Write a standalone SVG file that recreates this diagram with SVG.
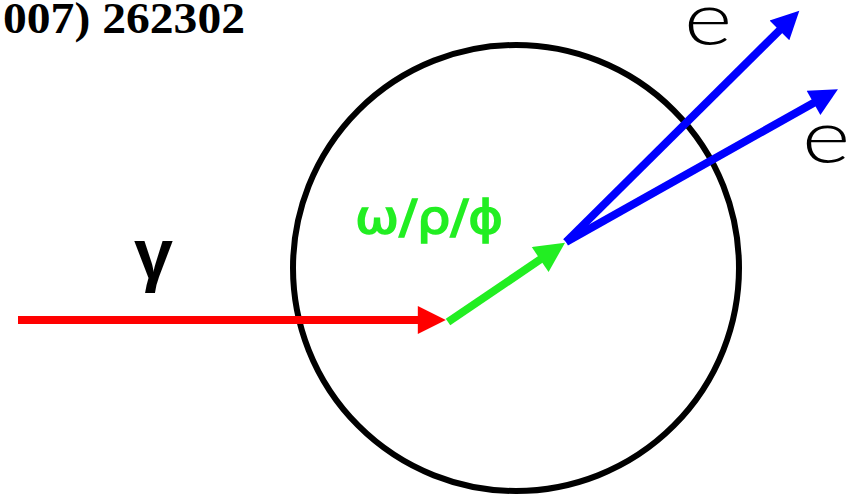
<svg xmlns="http://www.w3.org/2000/svg" width="854" height="497" viewBox="0 0 854 497">
<style>
.ln{fill:none;stroke-width:8;stroke-linecap:butt}
.serif{font-family:"Liberation Serif","Times New Roman",serif;font-weight:bold}
.el{font-family:Lato,"Liberation Sans",sans-serif;font-weight:300;font-size:74px;fill:#000}
</style>
<defs>
<marker id="ar" viewBox="0 0 10 10" refX="4" refY="5" markerUnits="userSpaceOnUse" markerWidth="34" markerHeight="28" orient="auto"><path d="M0,0 L10,5 L0,10 z" fill="#ff0000"/></marker>
<marker id="ag" viewBox="0 0 10 10" refX="4" refY="5" markerUnits="userSpaceOnUse" markerWidth="31" markerHeight="30" orient="auto"><path d="M0,0 L10,5 L0,10 z" fill="#22ee22"/></marker>
<marker id="ab" viewBox="0 0 10 10" refX="4" refY="5" markerUnits="userSpaceOnUse" markerWidth="32" markerHeight="28" orient="auto"><path d="M0,0 L10,5 L0,10 z" fill="#0000ff"/></marker>
</defs>
<rect width="854" height="497" fill="#ffffff"/>
<text class="serif" x="3" y="33" font-size="45" textLength="242" lengthAdjust="spacingAndGlyphs">007) 262302</text>
<g id="nucleus"><circle cx="516" cy="268" r="223" fill="none" stroke="#000" stroke-width="6"/></g>
<g id="labels">
<text x="134" y="278" font-size="70" font-weight="bold" font-family="'Liberation Sans',Arial,sans-serif">γ</text>
<text x="355" y="233" font-size="46" font-family="'DejaVu Sans',Verdana,sans-serif" fill="#22ee22" stroke="#22ee22" stroke-width="1.6" textLength="148" lengthAdjust="spacingAndGlyphs">ω/ρ/ϕ</text>
<text class="el" transform="translate(684,45) scale(1.25,1)">e</text>
<text class="el" transform="translate(802,163) scale(1.25,1)">e</text>
</g>
<g id="connectors">
<path class="ln" d="M18,320 L429,320" stroke="#ff0000" marker-end="url(#ar)"/>
<path class="ln" d="M448,322 L550.1,252.8" stroke="#22ee22" marker-end="url(#ag)"/>
<path class="ln" d="M566,242 L787.4,22.5" stroke="#0000ff" stroke-width="7" marker-end="url(#ab)"/>
<path class="ln" d="M566,242 L823.3,97.4" stroke="#0000ff" stroke-width="7" marker-end="url(#ab)"/>
</g>
</svg>
